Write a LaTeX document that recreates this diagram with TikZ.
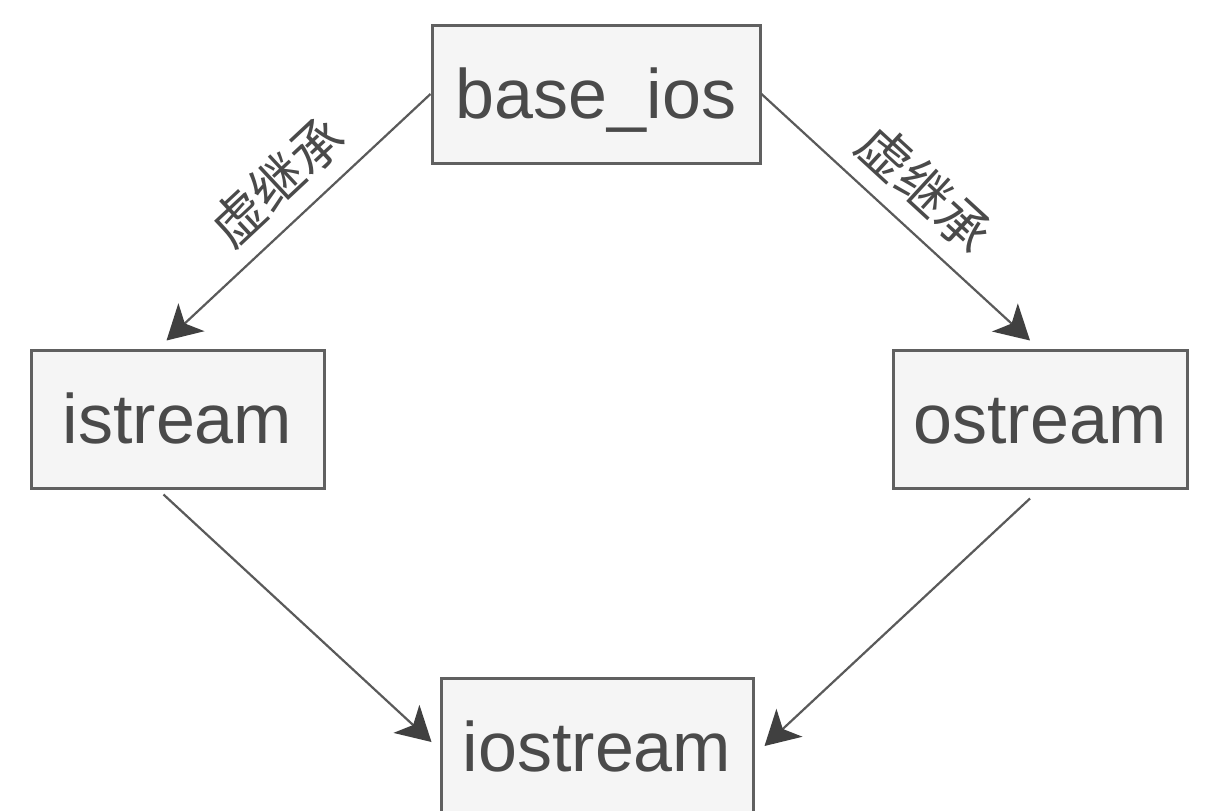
\documentclass[tikz,border=0pt]{standalone}
\usepackage{fontspec}
\setmainfont{Liberation Sans}
\newfontfamily\cjk{Noto Sans CJK SC}
\usetikzlibrary{arrows.meta,calc}
\definecolor{boxfill}{HTML}{F5F5F5}
\definecolor{boxline}{HTML}{606060}
\definecolor{txt}{HTML}{4A4A4A}
\definecolor{arr}{HTML}{5A5A5A}
\definecolor{tipc}{HTML}{404040}
\begin{document}
\begin{tikzpicture}[x=1pt,y=-1pt,
  cls/.style={draw=boxline, line width=3pt, fill=boxfill, text=txt,
    font=\fontsize{70}{84}\selectfont, minimum height=138pt, inner sep=0pt,
    text height=50pt, text depth=2pt},
  inh/.style={draw=arr, line width=2.2pt,
    -{Stealth[length=34pt,width=38pt,inset=9pt,color=tipc]}},
  lbl/.style={font=\cjk\fontsize{53}{58}\selectfont, text=txt, sloped, above, inner sep=15pt}]
\useasboundingbox (0,0) rectangle (1221,811);
\fill[white] (0,0) rectangle (1221,811);
\node[cls, minimum width=328pt] (base) at (596,94) {base\_ios};
\node[cls, minimum width=293pt] (ist) at (177.5,419) {istream};
\node[cls, minimum width=294pt] (ost) at (1040,419) {ostream};
\node[cls, minimum width=312pt] (io) at (597,747) {iostream};
\draw[inh] (base.west) -- node[lbl, pos=0.476] {虚继承} ($(ist.north)+(-11,-8)$);
\draw[inh] (base.east) -- node[lbl, pos=0.505] {虚继承} ($(ost.north)+(-10,-8)$);
\draw[inh] ($(ist.south)+(-14,5)$) -- ($(io.west)+(-8,-5)$);
\draw[inh] ($(ost.south)+(-10,9)$) -- ($(io.east)+(10,-1)$);
\end{tikzpicture}
\end{document}
